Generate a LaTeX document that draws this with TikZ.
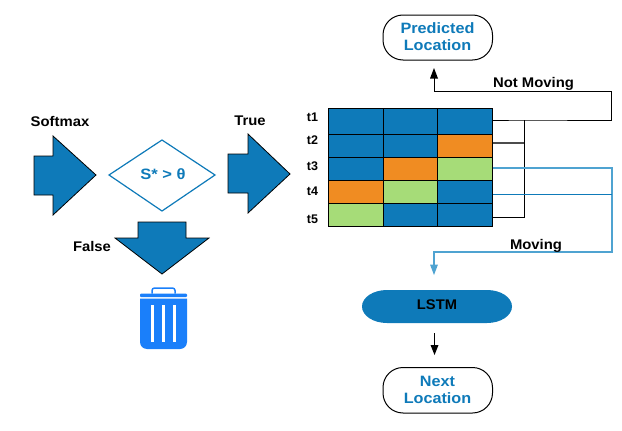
\documentclass[tikz,border=0pt]{standalone}
\usepackage{fontspec}
\setmainfont{Liberation Sans}
\definecolor{cblue}{HTML}{0E7AB9}
\definecolor{corange}{HTML}{F08C22}
\definecolor{cgreen}{HTML}{A6DC78}
\definecolor{lblue}{HTML}{4FA3D1}
\definecolor{binblue}{HTML}{1A7FFA}
\tikzset{
  x=1pt,y=-1pt,
  lbl/.style={font=\fontsize{14}{16}\selectfont\bfseries,text=black,inner sep=0pt,xscale=1.06},
  smalllbl/.style={font=\fontsize{12.5}{14}\selectfont\bfseries,text=black,inner sep=0pt},
  termtxt/.style={font=\fontsize{15}{17}\selectfont\bfseries,text=cblue,inner sep=0pt,xscale=1.08},
  terminal/.style={draw=black,line width=1pt,rounded corners=20pt,fill=white},
  fatarrow/.style={fill=cblue,draw=black,line width=0.8pt,line join=miter},
  cellbox/.style={draw=black,line width=1.4pt,minimum width=54.5pt,inner sep=0pt,anchor=north west},
  conn/.style={draw=black,line width=0.9pt},
  bconn/.style={draw=lblue,line width=1.3pt},
}
\begin{document}
\begin{tikzpicture}
\useasboundingbox (0,0) rectangle (622,431);
% left arrows
\draw[fatarrow] (34,156)--(53,156)--(53,136)--(96,175)--(53,215)--(53,195)--(34,195)--cycle;
\draw[fatarrow] (228,154)--(248,154)--(248,134)--(290,174)--(248,213)--(248,193)--(228,193)--cycle;
\draw[fatarrow] (138,222)--(186,222)--(186,238)--(209,238)--(162,274)--(115,238)--(138,238)--cycle;
\node[lbl] (softmax) at (60,121) {Softmax};
\node[lbl] (true) at (250,121) {True};
\node[lbl] (false) at (92,246.5) {False};
% decision
\draw[draw=cblue,line width=1.2pt,fill=white] (109,175)--(162,140)--(215,175)--(162,211)--cycle;
\node[lbl,text=cblue,font=\fontsize{15}{17}\selectfont\bfseries,xscale=1.04] (dec) at (163,174.5) {S* > θ};
% bin
\fill[binblue,rounded corners=1pt] (140,293.5) rectangle (187,297);
\draw[binblue,line width=1.5pt,rounded corners=2.5pt] (152,293.5)--(152,288)--(175,288)--(175,293.5);
\fill[binblue] (140,298.5)--(187,298.5)--(187,342) arc[start angle=0,end angle=90,radius=7]--(147,349) arc[start angle=90,end angle=180,radius=7]--cycle;
\fill[white] (151,305) rectangle (153.5,342);
\fill[white] (162,305) rectangle (164.5,342);
\fill[white] (173,305) rectangle (175.5,342);
% grid
\foreach \r/\y/\h/\ca/\cb/\cc in {1/108/25.5/cblue/cblue/cblue,2/133.5/23/cblue/cblue/corange,3/156.5/23/cblue/corange/cgreen,4/179.5/23/corange/cgreen/cblue,5/202.5/23/cgreen/cblue/cblue}{
  \node[cellbox,fill=\ca,minimum height=\h pt] (c\r1) at (328,\y) {};
  \node[cellbox,fill=\cb,minimum height=\h pt] (c\r2) at (382.5,\y) {};
  \node[cellbox,fill=\cc,minimum height=\h pt] (c\r3) at (437,\y) {};
}
\node[smalllbl] (t1) at (312.5,117.5) {t1};
\node[smalllbl] (t2) at (312.5,140.5) {t2};
\node[smalllbl] (t3) at (312.5,166.5) {t3};
\node[smalllbl] (t4) at (312.5,191.5) {t4};
\node[smalllbl] (t5) at (312.5,219.5) {t5};
% terminals
\draw[terminal] (383,15) rectangle (492.5,60);
\node[termtxt] (pred) at (437.5,28.5) {Predicted};
\node[termtxt] (predl) at (437.5,45) {Location};
\draw[terminal] (383,367.5) rectangle (492.5,413);
\node[termtxt] (next) at (437.5,381) {Next};
\node[termtxt] (nextl) at (437.5,398) {Location};
\fill[cblue] (387,290)--(487,290) arc[start angle=-90,end angle=90,x radius=25,y radius=16.5]--(387,323) arc[start angle=90,end angle=270,x radius=25,y radius=16.5]--cycle;
\node[font=\fontsize{14}{16}\selectfont\bfseries,text=black,inner sep=0pt,xscale=1.05] (lstm) at (437,305) {LSTM};
% connectors
\coordinate (j1) at (524,120);
\coordinate (j2) at (524,143);
\coordinate (j5) at (524,217);
\coordinate (r1) at (611,120);
\coordinate (r2) at (611,91);
\coordinate (r3) at (434,91);
\coordinate (topt) at (434,68);
\draw[conn] (c13.east |- j1)--(j1)--(r1)--(r2)--(r3)--(434,78);
\fill[black] (topt)--(438,78.5)--(430,78.5)--cycle;
\draw[conn,draw=black!70,line width=1.2pt] (c23.east |- j2)--(j2);
\draw[conn] (c53.east |- j5)--(j5)--(j1);
\node[lbl,font=\fontsize{14}{16}\selectfont\bfseries] (nm) at (533.5,83.5) {Not Moving};
\coordinate (b1) at (612,168);
\coordinate (b2) at (612,194);
\coordinate (b3) at (612,252);
\coordinate (b4) at (434,252);
\coordinate (bt) at (434,275);
\draw[bconn] (c33.east |- b1)--(b1)--(b3)--(b4)--(434,265);
\draw[draw=cblue,line width=0.9pt] (c43.east |- b2)--(b2);
\fill[lblue] (bt)--(438,264.5)--(430,264.5)--cycle;
\node[lbl,font=\fontsize{14}{16}\selectfont\bfseries] (mv) at (536,246) {Moving};
\coordinate (a1) at (434.5,333);
\coordinate (a2) at (434.5,355);
\draw[conn,line width=1.2pt] (a1)--(434.5,346);
\fill[black] (a2)--(438.5,345)--(430.5,345)--cycle;
\end{tikzpicture}
\end{document}
